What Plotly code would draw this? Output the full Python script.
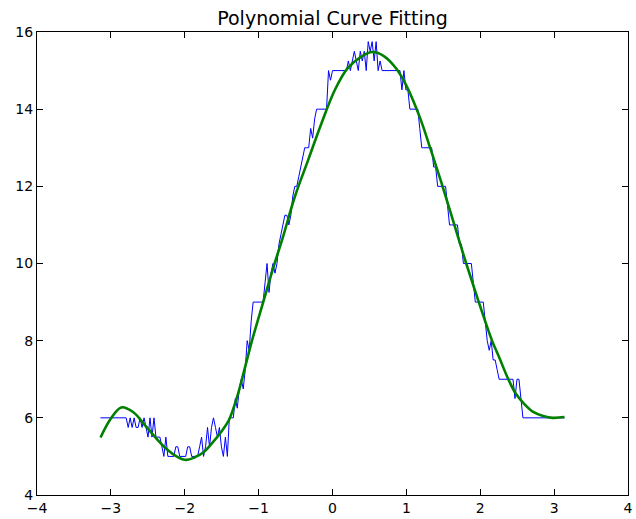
import numpy as np
import plotly.graph_objects as go

# Measured signal, sampled evenly over [-pi, pi]
x_start, x_end = -np.pi, np.pi
signal = [
    6.0, 6.0, 6.0, 6.0, 6.0, 6.0, 6.0, 6.0, 6.0, 6.0, 6.0, 6.0, 6.0, 6.0,
    5.75, 6.0, 5.75, 6.0, 5.75, 5.75, 6.0, 5.75, 6.0, 5.75,
    5.5, 6.0, 5.5, 6.0, 5.5,
    5.5, 5.5, 5.25,
    5.0, 5.5, 5.0,
    5.0, 5.0, 5.0,
    5.25, 5.25, 5.0, 5.0, 5.0, 5.0, 5.25, 5.25, 5.0,
    5.0, 5.0, 5.0, 5.25, 5.5, 5.0, 5.25,
    5.75, 5.25, 5.75,
    6.0,
    5.75, 5.5, 5.75,
    5.25, 5.0, 5.5, 5.0,
    6.0, 6.0, 6.0,
    6.5, 6.25,
    6.75, 7.0,
    6.75, 7.25,
    8.0, 7.75,
    8.5, 9.0,
    9.0, 9.0, 9.0, 9.0, 9.0,
    9.5, 10.0, 9.25, 9.75,
    10.0, 9.75, 10.0,
    10.5, 10.75,
    11.0, 11.25,
    11.25, 11.0, 11.25,
    11.75, 12.0,
    12.0, 12.25,
    12.5, 12.75, 13.0, 13.0,
    13.0, 13.5, 13.25, 13.75,
    14.0, 14.0, 14.0, 14.0, 14.0, 14.0,
    15.0, 14.75,
    15.0, 15.0, 15.0, 15.0, 15.0, 15.0, 15.0, 15.0,
    15.25, 15.0, 15.25, 15.5, 15.25, 15.0, 15.5, 15.25, 15.5, 15.0,
    15.75, 15.5, 15.75, 15.25, 15.75,
    15.0, 15.25, 15.0, 15.0, 15.0, 15.0, 15.0, 15.0, 15.0, 15.0, 15.0, 15.0,
    14.5, 15.0, 14.5, 14.5,
    14.0, 14.0, 14.0, 14.0, 14.0,
    13.5, 13.0,
    13.0, 13.0, 13.0, 13.0, 13.0,
    12.5, 12.5,
    12.0, 12.0, 12.0, 12.0, 12.0,
    11.5, 11.0,
    11.0, 11.0, 11.0, 11.0,
    10.5, 10.5,
    10.0, 10.0, 10.0, 10.0, 10.0,
    9.5,
    9.0, 9.0, 9.0, 9.0, 9.0,
    8.5,
    8.0, 7.75, 8.0, 7.5,
    7.5, 7.25,
    7.0, 7.0, 7.0, 7.0, 7.0, 7.0, 7.0, 7.0,
    6.5,
    7.0, 7.0,
    6.5, 6.0,
    6.0, 6.0, 6.0, 6.0, 6.0, 6.0, 6.0, 6.0, 6.0, 6.0, 6.0,
    6.0, 6.0, 6.0, 6.0, 6.0, 6.0, 6.0, 6.0, 6.0, 6.0,
]
signal_x = np.linspace(x_start, x_end, len(signal))

# Fitted polynomial curve
fit_x = [-3.14, -3.0, -2.86, -2.7, -2.54, -2.4, -2.25, -2.1, -1.98, -1.87,
         -1.75, -1.65, -1.49, -1.4, -1.29, -1.2, -1.09, -0.93, -0.8, -0.67,
         -0.51, -0.33, -0.15, 0.03, 0.2, 0.38, 0.54, 0.7, 0.86, 1.0,
         1.18, 1.33, 1.49, 1.65, 1.81, 1.98, 2.16, 2.26, 2.38, 2.48,
         2.6, 2.71, 2.85, 2.98, 3.14]
fit_y = [5.49, 5.98, 6.27, 6.15, 5.81, 5.50, 5.20, 4.99, 4.91, 4.97,
         5.10, 5.30, 5.68, 5.95, 6.55, 7.19, 8.0, 9.05, 9.9, 10.69,
         11.73, 12.68, 13.63, 14.49, 15.05, 15.35, 15.48, 15.37, 15.06, 14.61,
         13.8, 12.95, 12.0, 11.0, 10.0, 9.0, 8.0, 7.55, 7.0, 6.63,
         6.35, 6.16, 6.05, 6.0, 6.02]

x_ticks = [-4, -3, -2, -1, 0, 1, 2, 3, 4]
y_ticks = [4, 6, 8, 10, 12, 14, 16]

fig = go.Figure()
fig.add_trace(go.Scatter(x=signal_x, y=signal, mode="lines",
                         line=dict(color="#0000ff", width=1), hoverinfo="skip"))
fig.add_trace(go.Scatter(x=fit_x, y=fit_y, mode="lines",
                         line=dict(color="#008000", width=2.6, shape="spline", smoothing=1.0),
                         hoverinfo="skip"))

axis_common = dict(
    showgrid=False, zeroline=False, showline=True, linecolor="black", linewidth=1,
    mirror="ticks", ticks="inside", ticklen=6, tickwidth=1, tickcolor="black",
    tickfont=dict(family="DejaVu Sans", size=14, color="black"),
    ticklabeloverflow="allow",
)
fig.update_xaxes(range=[-4, 4], tickvals=x_ticks, **axis_common)
fig.update_yaxes(range=[4, 16], tickvals=y_ticks, **axis_common)

fig.update_layout(
    width=636, height=519,
    margin=dict(l=37, r=3, t=32, b=24),
    paper_bgcolor="white", plot_bgcolor="white",
    showlegend=False,
    title=dict(text="Polynomial Curve Fitting", x=0.5, xref="paper",
               y=1 - 18 / 519, yref="container", yanchor="middle",
               font=dict(family="DejaVu Sans", size=19, color="black")),
)

fig.write_html("out.html")
